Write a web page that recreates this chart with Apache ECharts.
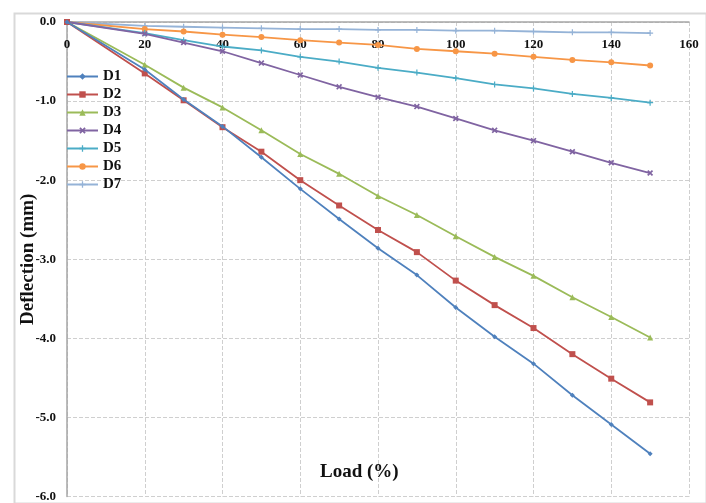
<!DOCTYPE html>
<html><head><meta charset="utf-8">
<script src="https://cdn.jsdelivr.net/npm/echarts@6/dist/echarts.min.js"></script>
<style>html,body{margin:0;padding:0;background:#fff}#c{width:706px;height:503px}</style>
</head><body><div id="c"></div>
<script>
var loads = [0,20,30,40,50,60,70,80,90,100,110,120,130,140,150];
var names = ['D1','D2','D3','D4','D5','D6','D7'];
var D1 = [0,-0.60,-0.98,-1.32,-1.71,-2.11,-2.49,-2.86,-3.20,-3.61,-3.98,-4.32,-4.72,-5.09,-5.46];
var D2 = [0,-0.65,-0.99,-1.33,-1.64,-2.00,-2.32,-2.63,-2.91,-3.27,-3.58,-3.87,-4.20,-4.51,-4.81];
var D3 = [0,-0.54,-0.83,-1.08,-1.37,-1.67,-1.92,-2.20,-2.44,-2.71,-2.97,-3.21,-3.48,-3.73,-3.99];
var D4 = [0,-0.15,-0.26,-0.37,-0.52,-0.67,-0.82,-0.95,-1.07,-1.22,-1.37,-1.50,-1.64,-1.78,-1.91];
var D5 = [0,-0.14,-0.23,-0.31,-0.36,-0.44,-0.50,-0.58,-0.64,-0.71,-0.79,-0.84,-0.91,-0.96,-1.02];
var D6 = [0,-0.09,-0.12,-0.16,-0.19,-0.23,-0.26,-0.29,-0.34,-0.37,-0.40,-0.44,-0.48,-0.51,-0.55];
var D7 = [0,-0.05,-0.06,-0.07,-0.08,-0.09,-0.09,-0.10,-0.10,-0.11,-0.11,-0.12,-0.13,-0.13,-0.14];
var yTicks = [0,-1,-2,-3,-4,-5,-6];
var xTicks = [0,20,40,60,80,100,120,140,160];

var values = [D1,D2,D3,D4,D5,D6,D7];
var colors = ['#4F81BD','#C0504D','#9BBB59','#8064A2','#4BACC6','#F79646','#95B3D7'];
var symbols = ['diamond','rect','triangle',
  'path://M2,0L5,3L8,0L10,2L7,5L10,8L8,10L5,7L2,10L0,8L3,5L0,2Z',
  'path://M4,0H6V4H10V6H6V10H4V6H0V4H4Z',
  'circle',
  'path://M4,0H6V4H10V6H6V10H4V6H0V4H4Z'];
var sizes = [5,6,6,6,6,6,6];
var font = '"Liberation Serif","Times New Roman",serif';

var series = names.map(function(n,i){
  return {
    name:n, type:'line',
    data: loads.map(function(x,j){return [x, values[i][j]];}),
    symbol: symbols[i], symbolSize: sizes[i], showSymbol:true,
    lineStyle:{color:colors[i], width:1.8},
    itemStyle:{color:colors[i]},
    z: 10 - i
  };
});

var chart = echarts.init(document.getElementById('c'));
chart.setOption({
  animation:false,
  grid:{left:67, top:22, right:17, bottom:6, containLabel:false},
  legend:{
    orient:'vertical', left:61, top:64, itemWidth:31, itemHeight:8, itemGap:3,
    data:names,
    textStyle:{fontFamily:font, fontWeight:'bold', fontSize:15, color:'#111', lineHeight:14}
  },
  xAxis:{
    type:'value', position:'top', min:0, max:160, interval:20,
    axisLine:{show:true, onZero:false, lineStyle:{color:'#a6a6a6', width:1.5}},
    axisTick:{show:false},
    axisLabel:{inside:true, margin:16, fontFamily:font, fontWeight:'bold', fontSize:13, color:'#111',
      formatter:function(v){return xTicks.indexOf(v)>=0 ? String(v) : '';}},
    splitLine:{show:true, lineStyle:{color:'#cfcfcf', type:'dashed', width:1}}
  },
  yAxis:{
    type:'value', min:-6, max:0, interval:1,
    name:'Deflection (mm)', nameLocation:'middle', nameGap:29, nameRotate:90,
    nameMoveOverlap:false,
    nameTextStyle:{fontFamily:font, fontWeight:'bold', fontSize:19, color:'#111'},
    axisLine:{show:true, lineStyle:{color:'#a6a6a6', width:1.5}},
    axisTick:{show:false},
    axisLabel:{margin:11, fontFamily:font, fontWeight:'bold', fontSize:13, color:'#111',
      formatter:function(v){return yTicks.indexOf(v)>=0 ? v.toFixed(1) : '';}},
    splitLine:{show:true, lineStyle:{color:'#cfcfcf', type:'dashed', width:1}}
  },
  graphic:[
    {type:'rect', left:12, top:11, shape:{width:692, height:490},
     style:{fill:'none', stroke:'#d9d9d9', lineWidth:2}, z:-1},
    {type:'text', left:320, top:463,
     style:{text:'Load (%)', fontFamily:font, fontWeight:'bold', fontSize:19, fill:'#111'}}
  ],
  series:series
});
</script></body></html>
